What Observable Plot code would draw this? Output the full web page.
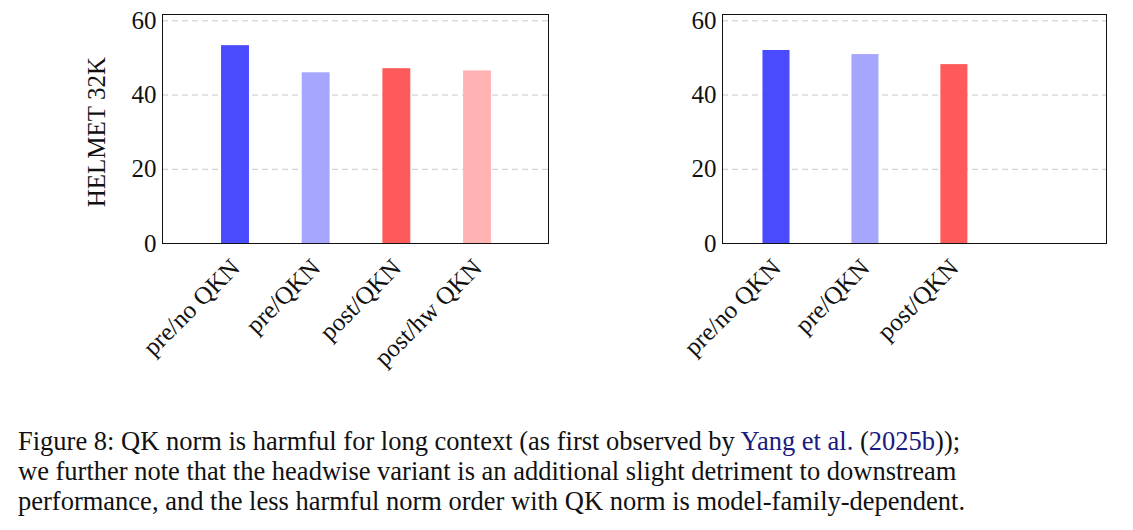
<!DOCTYPE html>
<html><head><meta charset="utf-8">
<script src="https://cdn.jsdelivr.net/npm/d3@7"></script>
<script src="https://cdn.jsdelivr.net/npm/@observablehq/plot@0.6"></script>
<style>
body{margin:0;background:#fff;font-family:"Liberation Serif",serif;}
#wrap{position:relative;width:1133px;height:530px;}
#left{position:absolute;left:0;top:0}
#right{position:absolute;left:560px;top:0}
#cap{position:absolute;left:18px;top:426px;width:1115px;font-size:26.5px;line-height:30px;color:#111;white-space:nowrap;}
#cap a{color:#1a1a80;text-decoration:none}
</style></head><body>
<div id="wrap"><div id="left"></div><div id="right"></div>
<div id="cap">Figure 8: QK norm is harmful for long context (as first observed by <a>Yang et al.</a> (<a>2025b</a>));<br>we further note that the headwise variant is an additional slight detriment to downstream<br>performance, and the less harmful norm order with QK norm is model-family-dependent.</div></div>
<script>
const leftCats = ["pre/no QKN","pre/QKN","post/QKN","post/hw QKN"];
const leftVals = [53.3, 46.0, 47.1, 46.5];
const rightCats = ["pre/no QKN","pre/QKN","post/QKN"];
const rightVals = [52.0, 50.9, 48.2];
const colors = ["#4a4aff","#a6a6ff","#ff5a5a","#ffb3b3"];
const yTicks = [0,20,40,60];

function panel(cats, vals, xdom, half, width, marginLeft, ylabel){
  const data = cats.map((c,i)=>({i, c, v: vals[i], col: colors[i]}));
  return Plot.plot({
    width, height:400, marginLeft, marginRight: 2, marginTop:14, marginBottom:157,
    style:{fontFamily:"Liberation Serif, serif", fontSize:"25px", color:"#111", background:"#fff"},
    x:{type:"linear", domain:xdom, axis:null},
    y:{domain:[0,61.7], axis:null},
    marks:[
      Plot.ruleY([20,40,60], {stroke:"#bbb", strokeDasharray:"6,4", strokeWidth:0.8}),
      Plot.rectY(data, {x1:d=>d.i-half, x2:d=>d.i+half, y1:0, y2:"v", fill:"col"}),
      Plot.frame({stroke:"#111", strokeWidth:1}),
      Plot.axisY(yTicks, {tickSize:0, tickPadding:6, fontSize:25, label:null, anchor:"left"}),
      Plot.axisX(data.map(d=>d.i), {tickSize:0, tickRotate:-45, tickPadding:20, fontSize:25,
        tickFormat:i=>cats[i], label:null, anchor:"bottom", textAnchor:"end"}),
      ...(ylabel ? [Plot.text([ylabel], {x: xdom[0], y: 30, dx:-66, rotate:-90, fontSize:25, text:d=>d})] : [])
    ]
  });
}
document.getElementById("left").append(panel(leftCats, leftVals, [-0.905, 3.88], 0.173, 550, 162, "HELMET 32K"));
document.getElementById("right").append(panel(rightCats, rightVals, [-0.607, 3.71], 0.152, 548, 162, null));
</script></body></html>
